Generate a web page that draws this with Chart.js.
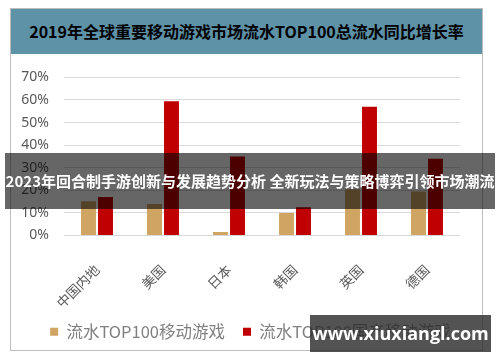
<!DOCTYPE html>
<html>
<head>
<meta charset="utf-8">
<script src="https://cdn.jsdelivr.net/npm/chart.js@4"></script>
<style>
  body { margin: 0; background: #fff; width: 500px; height: 362px; overflow: hidden; position: relative; }
  #cadre { position: absolute; left: 10px; top: 8px; width: 471px; height: 341px; border: 1px solid #bdbdbd; }
  #titre { position: absolute; left: 0; top: 0; width: 471px; height: 45px; background: #5e92a7;
    font: bold 16px "Noto Sans CJK SC", sans-serif; color: #000; text-align: center; line-height: 45px; }
  #zone { position: absolute; left: 0; top: 45px; width: 471px; height: 296px; }
  #bandeau { position: absolute; left: 5px; top: 153px; width: 490px; height: 56px; background: rgba(0,0,0,0.6);
    font: bold 15px "Noto Sans CJK SC", sans-serif; color: #fff; text-align: center; line-height: 56px; white-space: nowrap; }
  #filigrane { position: absolute; left: 310px; top: 315px; width: 181px; height: 37px; background: rgba(40,40,40,0.8);
    font: bold 18px "Open Sans", sans-serif; color: #fff; text-align: center; line-height: 37px; }
</style>
</head>
<body>
<div id="cadre">
  <div id="titre">2019年全球重要移动游戏市场流水TOP100总流水同比增长率</div>
  <div id="zone"><canvas id="graphique" width="471" height="296"></canvas></div>
</div>
<div id="bandeau">2023年回合制手游创新与发展趋势分析 全新玩法与策略博弈引领市场潮流</div>
<div id="filigrane">www.xiuxiangl.com</div>
<script>
// donnees (en %)
const pays = ["中国内地", "美国", "日本", "韩国", "英国", "德国"];
const topMonde = [15.2, 14, 1.6, 10, 20.5, 19.5];
const topChine = [17, 59.4, 35, 12.5, 57, 34];
const nomsSeries = ["流水TOP100移动游戏", "流水TOP100国产移动游戏"];
const graduations = [0, 10, 20, 30, 40, 50, 60, 70];

const data = {
  labels: pays,
  datasets: [
    { label: nomsSeries[0], data: topMonde, backgroundColor: "#d0a563" },
    { label: nomsSeries[1], data: topChine, backgroundColor: "#c00000" },
  ],
};

new Chart(document.querySelector("#graphique"), {
  type: "bar",
  data: data,
  options: {
    responsive: false,
    animation: false,
    devicePixelRatio: 1,
    categoryPercentage: 0.515,
    barPercentage: 0.88,
    layout: { padding: { top: 12, right: 0, bottom: 0, left: 8 } },
    plugins: {
      tooltip: { enabled: false },
      legend: {
        position: "bottom",
        labels: {
          boxWidth: 8, boxHeight: 8, padding: 18, color: "#7f7f7f",
          font: { family: "Noto Sans CJK SC", size: 16.5 },
        },
      },
    },
    scales: {
      x: {
        grid: { display: false },
        border: { display: false },
        ticks: {
          minRotation: 45, maxRotation: 45, color: "#595959", padding: 18,
          font: { family: "Noto Sans CJK SC", size: 13.5 },
        },
        afterFit: (s) => { s.height = 70; },
      },
      y: {
        min: 0, max: 70,
        afterBuildTicks: (s) => { s.ticks = graduations.map((v) => ({ value: v })); },
        afterFit: (s) => { s.width = 45; },
        grid: { color: "#d9d9d9", tickLength: 0 },
        border: { display: false },
        ticks: {
          autoSkip: false, color: "#595959", padding: 15,
          font: { family: "Noto Sans", size: 14 },
          callback: (v) => v + "%",
        },
      },
      // axe vide a droite, juste pour la marge
      marge: {
        position: "right",
        grid: { display: false },
        border: { display: false },
        ticks: { display: false },
        afterFit: (s) => { s.width = 22; },
      },
    },
  },
});
</script>
</body>
</html>
